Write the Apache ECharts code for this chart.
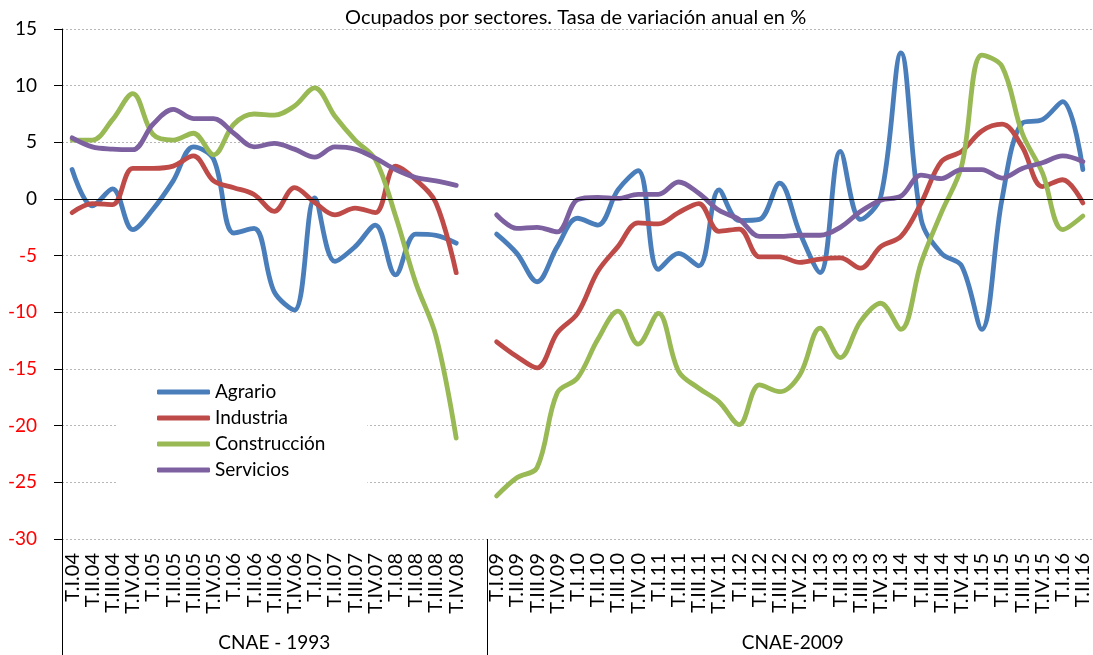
<!DOCTYPE html>
<html><head><meta charset="utf-8">
<script src="https://cdn.jsdelivr.net/npm/echarts@6/dist/echarts.min.js"></script>
<style>html,body{margin:0;padding:0;background:#fff}#c{width:1093px;height:655px}</style>
</head><body><div id="c"></div>
<script>
const titleText = 'Ocupados por sectores. Tasa de variación anual en %';
const seriesNames = ['Agrario', 'Industria', 'Construcción', 'Servicios'];
const groupNames = ['CNAE - 1993', 'CNAE-2009'];
const categories = [
  'T.I.04','T.II.04','T.III.04','T.IV.04','T.I.05','T.II.05','T.III.05','T.IV.05',
  'T.I.06','T.II.06','T.III.06','T.IV.06','T.I.07','T.II.07','T.III.07','T.IV.07',
  'T.I.08','T.II.08','T.III.08','T.IV.08','',
  'T.I.09','T.II.09','T.III.09','T.IV.09','T.I.10','T.II.10','T.III.10','T.IV.10',
  'T.I.11','T.II.11','T.III.11','T.IV.11','T.I.12','T.II.12','T.III.12','T.IV.12',
  'T.I.13','T.II.13','T.III.13','T.IV.13','T.I.14','T.II.14','T.III.14','T.IV.14',
  'T.I.15','T.II.15','T.III.15','T.IV.15','T.I.16','T.II.16'
];
const agrario = [
  2.6, -0.6, 0.9, -2.7, -0.9, 1.6, 4.6, 3.5, -3.0, -2.6, -8.2, -9.8, 0.1, -5.5, -4.2, -2.3, -6.7, -3.1, -3.2, -3.9,
  null,
  -3.1, -4.8, -7.3, -4.2, -1.7, -2.3, 0.8, 2.5, -6.2, -4.8, -5.9, 0.8, -1.9, -1.8, 1.4, -3.0, -6.5, 4.2, -1.8, 0.2,
  12.9, -1.8, -4.8, -5.9, -11.5, 0.0, 6.7, 7.0, 8.6, 2.6
];
const industria = [
  -1.2, -0.4, -0.5, 2.7, 2.7, 2.9, 3.8, 1.6, 1.0, 0.4, -1.1, 1.0, -0.3, -1.4, -0.8, -1.2, 2.9, 1.7, -0.35, -6.5,
  null,
  -12.6, -13.9, -14.9, -11.8, -10.1, -6.4, -4.2, -2.1, -2.2, -1.2, -0.4, -2.85, -2.65, -5.1, -5.1, -5.6, -5.3, -5.2, -6.1, -4.2,
  -3.3, -0.35, 3.3, 4.2, 6.0, 6.6, 4.6, 1.1, 1.7, -0.35
];
const construccion = [
  5.2, 5.2, 7.0, 9.3, 5.7, 5.2, 5.8, 3.9, 6.6, 7.5, 7.4, 8.2, 9.8, 7.3, 5.2, 3.5, -1.5, -7.4, -12.1, -21.1,
  null,
  -26.2, -24.6, -23.7, -17.1, -15.8, -12.4, -9.9, -12.8, -10.1, -15.2, -16.7, -17.9, -19.9, -16.4, -17.0, -15.5, -11.4, -14.0, -10.8, -9.2,
  -11.5, -5.6, -1.2, 2.9, 12.7, 11.7, 5.8, 2.3, -2.7, -1.5
];
const servicios = [
  5.4, 4.6, 4.4, 4.35, 6.6, 7.9, 7.1, 7.1, 5.8, 4.6, 4.9, 4.4, 3.7, 4.6, 4.4, 3.6, 2.6, 1.9, 1.6, 1.2,
  null,
  -1.4, -2.6, -2.5, -2.9, -0.05, 0.15, 0.05, 0.4, 0.4, 1.5, 0.5, -1.0, -1.8, -3.3, -3.3, -3.2, -3.2, -2.5, -1.1, -0.1,
  0.25, 2.1, 1.8, 2.6, 2.6, 1.85, 2.7, 3.2, 3.8, 3.3
];
const yMin = -30, yMax = 15, yStep = 5;
const colors = ['#4a7ebb', '#be4b48', '#98b954', '#7d60a0'];
const FONT = 'Lato';

const chart = echarts.init(document.getElementById('c'), null, {renderer: 'canvas'});
const seriesData = [agrario, industria, construccion, servicios];
const option = {
  animation: false,
  backgroundColor: '#fff',
  title: {
    text: titleText, left: 340, top: 3,
    textStyle: {fontFamily: FONT, fontSize: 20, fontWeight: 'normal', color: '#000'}
  },
  grid: {left: 62, right: -6, top: 29, bottom: 116, containLabel: false},
  legend: {
    data: seriesNames, orient: 'vertical', left: 117, top: 378,
    icon: 'roundRect', itemWidth: 53, itemHeight: 5, itemGap: 6,
    padding: [4, 42, 6, 40], backgroundColor: '#fff',
    textStyle: {fontFamily: FONT, fontSize: 19, lineHeight: 20, color: '#000'}
  },
  xAxis: {
    type: 'category', data: categories, boundaryGap: true,
    axisLine: {show: false, onZero: false}, axisTick: {show: false}, splitLine: {show: false},
    axisLabel: {interval: 0, rotate: 90, margin: 14, fontFamily: FONT, fontSize: 20, color: '#000'}
  },
  yAxis: {
    type: 'value', min: yMin, max: yMax, interval: yStep,
    axisLine: {show: true, lineStyle: {color: '#000', width: 1}},
    axisTick: {show: true, length: 8, lineStyle: {color: '#000'}},
    axisLabel: {margin: 25, fontFamily: FONT, fontSize: 19,
      color: function (v) { return Number(v) < 0 ? '#ff0000' : '#000'; }},
    splitLine: {lineStyle: {color: '#b8b8b8', type: [2, 2], width: 1}}
  },
  series: seriesNames.map(function (n, i) {
    const s = {
      name: n, type: 'line', data: seriesData[i], smooth: 0.35, symbol: 'none',
      connectNulls: false, color: colors[i],
      lineStyle: {width: 4.8, color: colors[i], cap: 'round', join: 'round'}
    };
    if (i === 0) {
      s.markLine = {silent: true, symbol: 'none', label: {show: false},
        lineStyle: {color: '#000', width: 1.2, type: 'solid'}, data: [{yAxis: 0}]};
    }
    return s;
  })
};
chart.setOption(option);

const c0 = chart.convertToPixel({gridIndex: 0}, [0, yMin]);
const c1 = chart.convertToPixel({gridIndex: 0}, [1, yMin]);
const band = c1[0] - c0[0];
const bottomY = c0[1];
const axisX = Math.round(c0[0] - band / 2) + 0.5;
const divX = Math.round(chart.convertToPixel({gridIndex: 0}, [20, yMin])[0] + band / 2) + 0.5;
const g1x = chart.convertToPixel({gridIndex: 0}, [10, yMin])[0];
const g2x = chart.convertToPixel({gridIndex: 0}, [36, yMin])[0] - band * 0.35;
const H = 655;
chart.setOption({
  graphic: [
    {type: 'line', shape: {x1: axisX, y1: bottomY, x2: axisX, y2: H}, style: {stroke: '#000', lineWidth: 1}},
    {type: 'line', shape: {x1: divX, y1: bottomY, x2: divX, y2: H}, style: {stroke: '#000', lineWidth: 1}},
    {type: 'text', x: g1x, y: bottomY + 104, style: {text: groupNames[0], font: '19px ' + FONT, fill: '#000', align: 'center', verticalAlign: 'middle', textAlign: 'center', textVerticalAlign: 'middle'}},
    {type: 'text', x: g2x, y: bottomY + 104, style: {text: groupNames[1], font: '19px ' + FONT, fill: '#000', align: 'center', verticalAlign: 'middle', textAlign: 'center', textVerticalAlign: 'middle'}}
  ]
});
</script>
</body></html>
